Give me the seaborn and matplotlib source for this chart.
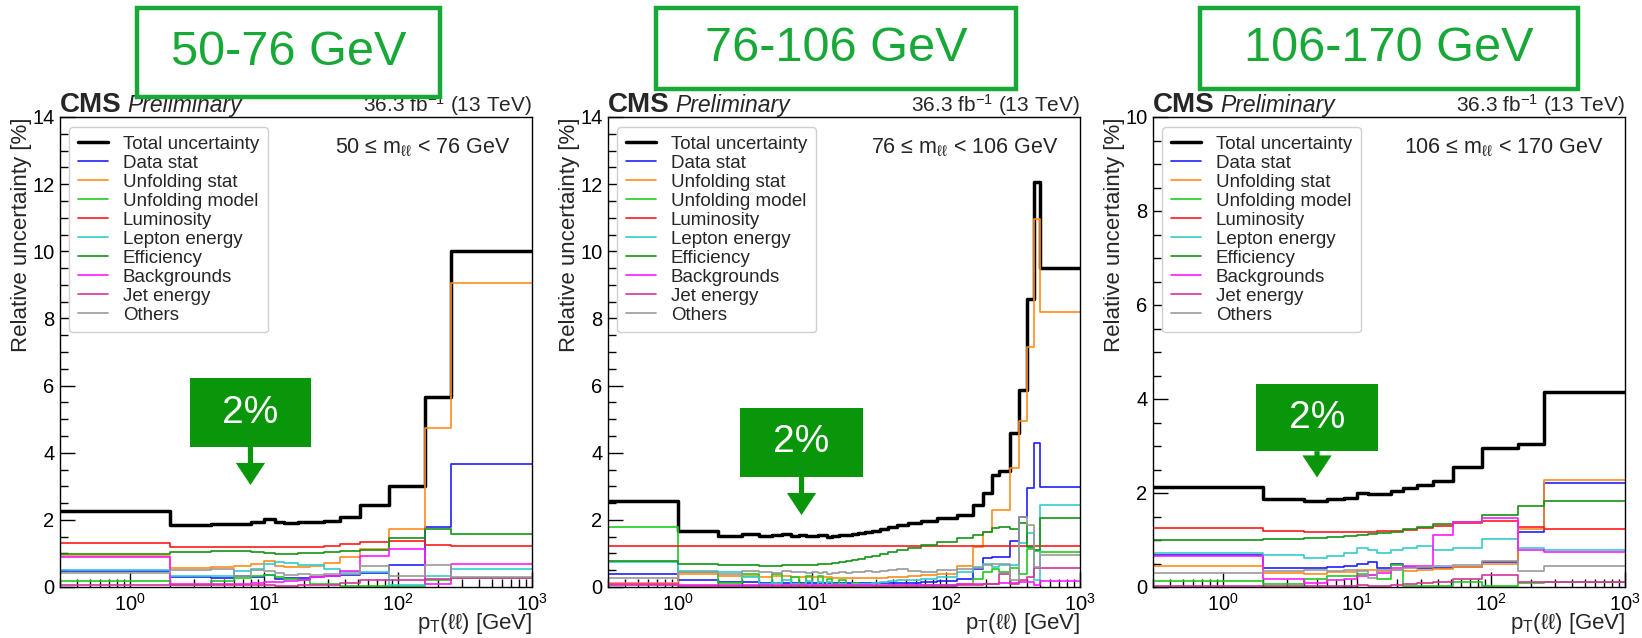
import numpy as np
import matplotlib
matplotlib.use("Agg")
import matplotlib.pyplot as plt
import seaborn as sns
from matplotlib.patches import Rectangle, FancyArrow
from matplotlib.ticker import MultipleLocator, LogLocator, NullFormatter

sns.set_theme(style="ticks")
plt.rcParams["font.family"] = ["Liberation Sans", "DejaVu Sans"]
plt.rcParams["mathtext.fontset"] = "custom"
plt.rcParams["mathtext.rm"] = "Liberation Sans"
plt.rcParams["mathtext.it"] = "Liberation Sans:italic"
plt.rcParams["mathtext.bf"] = "Liberation Sans:bold"
plt.rcParams["mathtext.default"] = "regular"

# ---------------------------------------------------------------- binning
edges_wide = [0, 2, 4, 6, 8, 10, 12, 14, 18, 22, 28, 37, 52, 85, 160, 250, 1000]
edges_peak = [0, 1, 2, 3, 4, 5, 6, 7, 8, 9, 10, 11, 12, 13, 14, 16, 18, 20, 22, 25,
              28, 32, 37, 43, 52, 65, 85, 120, 160, 190, 220, 250, 300, 350, 400,
              450, 500, 1000]

sources = ["Total uncertainty", "Data stat", "Unfolding stat", "Unfolding model",
           "Luminosity", "Lepton energy", "Efficiency", "Backgrounds",
           "Jet energy", "Others"]
mass_labels = [r"50 ≤ m$_{\ell\ell}$ < 76 GeV",
               r"76 ≤ m$_{\ell\ell}$ < 106 GeV",
               r"106 ≤ m$_{\ell\ell}$ < 170 GeV"]
box_titles = ["50-76 GeV", "76-106 GeV", "106-170 GeV"]

# ---------------------------------------------------------------- 50-76 GeV
total_low = [2.27, 1.85, 1.88, 1.88, 1.95, 2.02, 1.93, 1.90, 1.93, 1.93, 1.98, 2.09, 2.44, 3.00, 5.65, 10.02]
datastat_low = [0.47, 0.29, 0.26, 0.33, 0.30, 0.36, 0.23, 0.28, 0.28, 0.30, 0.33, 0.36, 0.41, 0.66, 1.78, 3.65]
unfstat_low = [0.92, 0.58, 0.60, 0.64, 0.70, 0.78, 0.62, 0.60, 0.60, 0.62, 0.72, 0.90, 1.12, 1.72, 4.75, 9.05]
unfmodel_low = [0.19, 0.05, 0.19, 0.26, 0.33, 0.36, 0.30, 0.23, 0.20, 0.09, 0.08, 0.04, 0.03, 0.02, 0.21, 0.26]
lumi_low = [1.30, 1.20, 1.18, 1.18, 1.18, 1.18, 1.18, 1.18, 1.18, 1.19, 1.22, 1.27, 1.33, 1.36, 1.26, 1.23]
lepton_low = [0.52, 0.33, 0.34, 0.48, 0.53, 0.69, 0.73, 0.71, 0.67, 0.66, 0.53, 0.46, 0.44, 0.07, 0.34, 0.53]
eff_low = [0.99, 1.04, 1.07, 1.06, 1.04, 1.02, 0.99, 0.99, 1.00, 1.01, 1.04, 1.06, 1.11, 1.46, 1.73, 1.57]
bkg_low = [0.90, 0.08, 0.08, 0.10, 0.12, 0.15, 0.16, 0.17, 0.22, 0.30, 0.34, 0.47, 0.91, 1.13, 0.08, 0.68]
jet_low = [0.07, 0.06, 0.06, 0.05, 0.06, 0.05, 0.04, 0.04, 0.05, 0.06, 0.07, 0.12, 0.20, 0.22, 0.24, 0.27]
others_low = [0.42, 0.50, 0.53, 0.32, 0.50, 0.47, 0.42, 0.36, 0.40, 0.37, 0.40, 0.40, 0.64, 0.32, 0.66, 0.30]

# ---------------------------------------------------------------- 76-106 GeV
total_peak = [2.55, 1.67, 1.53, 1.57, 1.52, 1.54, 1.57, 1.52, 1.55, 1.51, 1.53, 1.56, 1.54, 1.49,
              1.52, 1.54, 1.56, 1.58, 1.60, 1.63, 1.68, 1.73, 1.78, 1.84, 1.90, 1.97, 2.05, 2.15,
              2.45, 2.79, 3.35, 3.47, 4.58, 5.87, 8.58, 12.07, 9.51]
datastat_peak = [0.40, 0.21, 0.16, 0.14, 0.13, 0.13, 0.13, 0.12, 0.12, 0.12, 0.12, 0.12, 0.12, 0.11,
                 0.11, 0.11, 0.11, 0.11, 0.11, 0.11, 0.11, 0.12, 0.12, 0.12, 0.13, 0.14, 0.17, 0.25,
                 0.55, 0.85, 0.88, 0.88, 1.38, 2.08, 2.94, 4.30, 2.97]
unfstat_peak = [0.12, 0.40, 0.32, 0.33, 0.30, 0.32, 0.33, 0.30, 0.31, 0.30, 0.31, 0.30, 0.30, 0.29,
                0.28, 0.28, 0.28, 0.27, 0.27, 0.27, 0.28, 0.28, 0.29, 0.30, 0.32, 0.35, 0.40, 0.63,
                1.20, 1.65, 2.29, 2.29, 3.54, 4.93, 7.16, 10.96, 8.20]
unfmodel_peak = [1.80, 0.45, 0.12, 0.40, 0.05, 0.38, 0.05, 0.30, 0.10, 0.32, 0.05, 0.33, 0.06, 0.25,
                 0.10, 0.22, 0.05, 0.12, 0.05, 0.06, 0.04, 0.04, 0.05, 0.05, 0.05, 0.05, 0.07, 0.10,
                 0.25, 0.45, 0.55, 0.45, 0.56, 0.40, 1.12, 1.08, 1.03]
lumi_peak = [1.21, 1.21, 1.21, 1.21, 1.21, 1.21, 1.21, 1.21, 1.21, 1.21, 1.21, 1.21, 1.21, 1.21,
             1.21, 1.21, 1.21, 1.21, 1.21, 1.21, 1.21, 1.21, 1.21, 1.21, 1.21, 1.21, 1.21, 1.21,
             1.21, 1.21, 1.21, 1.21, 1.21, 1.21, 1.21, 1.21, 1.21]
lepton_peak = [0.73, 0.48, 0.45, 0.30, 0.10, 0.12, 0.20, 0.08, 0.06, 0.18, 0.05, 0.15, 0.06, 0.14,
               0.05, 0.10, 0.06, 0.10, 0.08, 0.10, 0.12, 0.15, 0.18, 0.20, 0.22, 0.25, 0.30, 0.45,
               0.60, 0.70, 0.60, 0.65, 0.65, 1.30, 1.60, 0.20, 2.43]
eff_peak = [0.76, 0.70, 0.67, 0.65, 0.64, 0.64, 0.65, 0.65, 0.66, 0.67, 0.67, 0.68, 0.69, 0.70,
            0.72, 0.74, 0.77, 0.80, 0.84, 0.88, 0.93, 0.98, 1.04, 1.10, 1.17, 1.24, 1.33, 1.45,
            1.55, 1.65, 1.75, 1.80, 1.72, 1.90, 1.18, 1.10, 2.05]
bkg_peak = [0.08, 0.07, 0.06, 0.06, 0.06, 0.06, 0.06, 0.06, 0.06, 0.06, 0.06, 0.06, 0.06, 0.06,
            0.05, 0.05, 0.05, 0.05, 0.05, 0.05, 0.05, 0.05, 0.05, 0.05, 0.05, 0.06, 0.06, 0.08,
            0.10, 0.10, 0.10, 0.12, 0.12, 0.15, 0.15, 0.05, 0.18]
jet_peak = [0.05, 0.04, 0.04, 0.03, 0.03, 0.03, 0.03, 0.03, 0.03, 0.03, 0.03, 0.03, 0.03, 0.03,
            0.03, 0.03, 0.03, 0.03, 0.03, 0.03, 0.03, 0.03, 0.03, 0.03, 0.03, 0.04, 0.04, 0.05,
            0.06, 0.08, 0.10, 0.38, 0.10, 0.22, 0.30, 0.56, 0.58]
others_peak = [0.28, 0.45, 0.40, 0.47, 0.45, 0.42, 0.47, 0.44, 0.46, 0.43, 0.46, 0.42, 0.45, 0.40,
               0.43, 0.45, 0.42, 0.46, 0.44, 0.47, 0.45, 0.49, 0.50, 0.55, 0.48, 0.45, 0.50, 0.55,
               0.58, 0.65, 0.68, 0.70, 0.20, 2.10, 1.85, 0.60, 0.95]

# ---------------------------------------------------------------- 106-170 GeV
total_high = [2.12, 1.87, 1.84, 1.87, 1.89, 1.99, 1.97, 1.97, 2.04, 2.10, 2.16, 2.26, 2.56, 2.96, 3.05, 4.14]
datastat_high = [0.68, 0.41, 0.40, 0.42, 0.45, 0.50, 0.53, 0.40, 0.48, 0.43, 0.41, 0.41, 0.42, 0.54, 1.18, 2.22]
unfstat_high = [0.45, 0.29, 0.27, 0.31, 0.32, 0.36, 0.36, 0.33, 0.36, 0.35, 0.36, 0.38, 0.43, 0.50, 1.23, 2.28]
unfmodel_high = [0.13, 0.06, 0.18, 0.23, 0.24, 0.27, 0.25, 0.16, 0.47, 0.03, 0.03, 0.02, 0.11, 0.03, 0.09, 0.10]
lumi_high = [1.25, 1.19, 1.18, 1.18, 1.18, 1.18, 1.18, 1.19, 1.20, 1.21, 1.25, 1.30, 1.37, 1.40, 1.27, 1.24]
lepton_high = [0.72, 0.68, 0.61, 0.65, 0.72, 0.84, 0.78, 0.72, 0.79, 0.84, 0.87, 0.79, 0.82, 1.03, 0.84, 0.79]
eff_high = [0.99, 1.03, 1.05, 1.07, 1.08, 1.10, 1.12, 1.15, 1.18, 1.23, 1.28, 1.35, 1.39, 1.53, 1.73, 1.83]
bkg_high = [0.66, 0.16, 0.09, 0.14, 0.16, 0.24, 0.26, 0.30, 0.40, 0.45, 0.45, 1.10, 1.38, 1.47, 0.79, 0.75]
jet_high = [0.02, 0.02, 0.02, 0.02, 0.03, 0.05, 0.03, 0.02, 0.05, 0.06, 0.08, 0.10, 0.18, 0.25, 0.10, 0.10]
others_high = [0.29, 0.35, 0.36, 0.34, 0.36, 0.33, 0.20, 0.36, 0.37, 0.40, 0.43, 0.45, 0.47, 0.56, 0.34, 0.44]

panels = [
    (edges_wide, [total_low, datastat_low, unfstat_low, unfmodel_low, lumi_low,
                  lepton_low, eff_low, bkg_low, jet_low, others_low], 14),
    (edges_peak, [total_peak, datastat_peak, unfstat_peak, unfmodel_peak, lumi_peak,
                  lepton_peak, eff_peak, bkg_peak, jet_peak, others_peak], 14),
    (edges_wide, [total_high, datastat_high, unfstat_high, unfmodel_high, lumi_high,
                  lepton_high, eff_high, bkg_high, jet_high, others_high], 10),
]

colors = ["#000000", "#1f1fff", "#ff8c1a", "#1ccc1c", "#ff1a1a",
          "#33cccc", "#149414", "#ff1aff", "#d6339c", "#999999"]
XMIN, XMAX = 0.3, 1000

W, H = 1642, 638
fig = plt.figure(figsize=(W / 100, H / 100), dpi=100)
fig.patch.set_facecolor("white")


def px_rect(x0, x1, y0, y1):
    """Figure-fraction rectangle from pixel extents (y measured from top)."""
    return [x0 / W, 1 - y1 / H, (x1 - x0) / W, (y1 - y0) / H]


axes_px = [(60, 532), (608, 1080), (1153, 1625)]
title_px = [(137, 440, 8, 97), (656, 1016, 8, 89), (1200, 1578, 8, 89)]
# "2%" callout: box x-range, box y-range (axes fractions) and arrow tip height
callouts = [((0.275, 0.532), (0.298, 0.444), 0.217),
            ((0.280, 0.540), (0.234, 0.381), 0.153),
            ((0.218, 0.477), (0.289, 0.432), 0.233)]

for i, (edges, series, ymax) in enumerate(panels):
    x0, x1 = axes_px[i]
    ax = fig.add_axes(px_rect(x0, x1, 117, 587))
    ax.set_facecolor("white")

    x = np.r_[XMIN, np.asarray(edges[1:], float)]  # first bin starts below axis range
    for name, vals, col in zip(sources, series, colors):
        y = np.r_[vals, vals[-1]]
        lw = 2.5 if name == "Total uncertainty" else 1.2
        sns.lineplot(x=x, y=y, ax=ax, drawstyle="steps-post", color=col, lw=lw,
                     label=name, estimator=None, sort=False)

    ax.set_xscale("log")
    ax.set_xlim(XMIN, XMAX)
    ax.set_ylim(0, ymax)
    ax.yaxis.set_major_locator(MultipleLocator(2))
    ax.yaxis.set_minor_locator(MultipleLocator(0.5))
    ax.xaxis.set_major_locator(LogLocator(base=10, numticks=10))
    ax.xaxis.set_minor_locator(LogLocator(base=10, subs=np.arange(2, 10), numticks=20))
    ax.xaxis.set_minor_formatter(NullFormatter())
    ax.tick_params(which="both", direction="in", top=False, right=False,
                   labelsize=14.5, colors="black", width=1)
    ax.tick_params(which="major", length=11)
    ax.tick_params(which="minor", length=6)
    ax.tick_params(axis="x", pad=4)
    ax.tick_params(axis="y", pad=4)
    for sp in ax.spines.values():
        sp.set_visible(True)
        sp.set_color("black")
        sp.set_linewidth(1.0)

    ax.set_xlabel(r"p$_{\mathrm{T}}$(ℓℓ) [GeV]", fontsize=16, loc="right", labelpad=-2.5)
    ax.set_ylabel("Relative uncertainty [%]", fontsize=16, loc="top", labelpad=0)

    leg = ax.legend(loc="upper left", bbox_to_anchor=(0.02, 0.978), borderaxespad=0,
                    fontsize=13.5, frameon=True, fancybox=True, framealpha=1,
                    edgecolor="#d0d0d0", labelspacing=0.1, handlelength=1.6,
                    handletextpad=0.8, borderpad=0.45)
    leg.get_frame().set_linewidth(1.0)

    ax.text(0.955, 0.935, mass_labels[i], transform=ax.transAxes, ha="right",
            va="center", fontsize=15.5)
    ax.text(0.0, 1.011, "CMS", transform=ax.transAxes, ha="left", va="baseline",
            fontsize=20, fontweight="bold")
    ax.text(0.142, 1.011, "Preliminary", transform=ax.transAxes, ha="left",
            va="baseline", fontsize=16.5, fontstyle="italic")
    ax.text(1.0, 1.011, r"36.3 fb$^{-1}$ (13 TeV)", transform=ax.transAxes,
            ha="right", va="baseline", fontsize=15)

    # green "2%" callout with downward arrow
    (bx0, bx1), (by0, by1), tip = callouts[i]
    ax.add_patch(Rectangle((bx0, by0), bx1 - bx0, by1 - by0, transform=ax.transAxes,
                           facecolor="#0a960a", edgecolor="none", zorder=6))
    ax.text((bx0 + bx1) / 2, (by0 + by1) / 2, "2%", transform=ax.transAxes,
            ha="center", va="center", color="white", fontsize=28, zorder=7)
    cx = (bx0 + bx1) / 2
    ax.add_patch(FancyArrow(cx, by0, 0, tip - by0, width=0.011, head_width=0.062,
                            head_length=0.047, length_includes_head=True,
                            transform=ax.transAxes, facecolor="#0a960a",
                            edgecolor="none", zorder=6))

    # mass-window title box above the panel
    tx0, tx1, ty0, ty1 = title_px[i]
    fig.patches.append(Rectangle((tx0 / W, 1 - ty1 / H), (tx1 - tx0) / W, (ty1 - ty0) / H,
                                 transform=fig.transFigure, facecolor="white",
                                 edgecolor="#18a838", linewidth=3.2))
    fig.text((tx0 + tx1) / 2 / W, 1 - (ty0 + ty1) / 2 / H, box_titles[i],
             ha="center", va="center", color="#18a838", fontsize=35)

fig.savefig("out.png", dpi=100, facecolor="white")
